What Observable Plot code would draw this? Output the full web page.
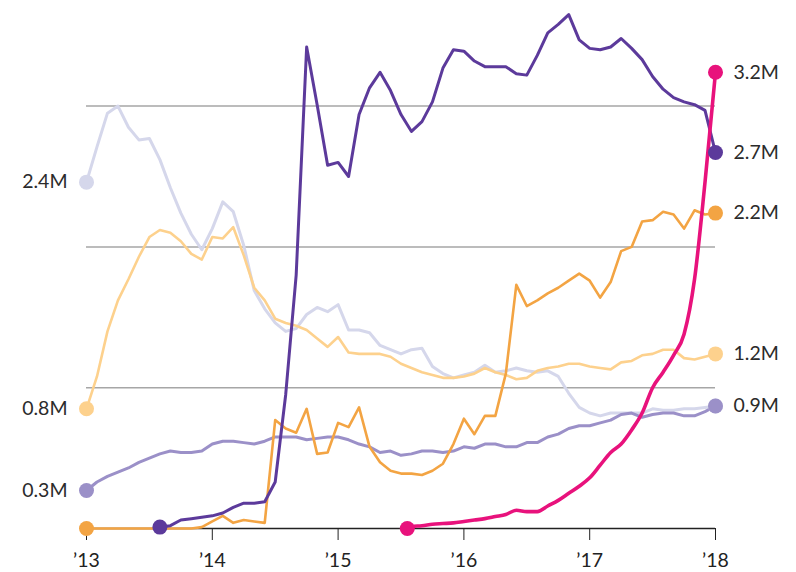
<!DOCTYPE html>
<html>
<head>
<meta charset="utf-8">
<script src="https://cdn.jsdelivr.net/npm/d3@7"></script>
<script src="https://cdn.jsdelivr.net/npm/@observablehq/plot@0.6"></script>
<style>
  html, body { margin: 0; padding: 0; background: #fff; }
  #chart { width: 796px; height: 572px; }
</style>
</head>
<body>
<div id="chart"></div>
<script>
// Year ticks
const years = [2013, 2014, 2015, 2016, 2017, 2018];
const gridValues = [1e6, 2e6, 3e6];

// Monthly values (millions), first month = start
const lavenderStart = 2013;
const lavenderValues = [2.46,2.71,2.95,3.00,2.85,2.76,2.77,2.62,2.42,2.24,2.09,1.98,2.13,2.32,2.25,2.01,1.69,1.56,1.46,1.40,1.42,1.52,1.57,1.54,1.59,1.41,1.41,1.39,1.30,1.27,1.24,1.27,1.28,1.15,1.10,1.07,1.09,1.11,1.16,1.11,1.12,1.14,1.12,1.11,1.12,1.08,0.96,0.86,0.82,0.80,0.82,0.82,0.82,0.82,0.85,0.84,0.84,0.85,0.85,0.86,0.87];

const lightOrangeStart = 2013;
const lightOrangeValues = [0.85,1.08,1.40,1.62,1.77,1.93,2.07,2.12,2.10,2.04,1.95,1.91,2.07,2.06,2.14,1.94,1.71,1.62,1.49,1.46,1.44,1.41,1.35,1.29,1.36,1.25,1.24,1.24,1.24,1.22,1.17,1.14,1.11,1.09,1.07,1.07,1.08,1.10,1.14,1.11,1.09,1.06,1.07,1.12,1.14,1.15,1.17,1.17,1.15,1.14,1.13,1.18,1.19,1.23,1.24,1.27,1.27,1.21,1.20,1.22,1.24];

const mediumPurpleStart = 2013;
const mediumPurpleValues = [0.27,0.33,0.37,0.40,0.43,0.47,0.50,0.53,0.55,0.54,0.54,0.55,0.60,0.62,0.62,0.61,0.60,0.62,0.65,0.65,0.65,0.63,0.64,0.65,0.65,0.63,0.60,0.58,0.54,0.55,0.52,0.53,0.55,0.55,0.54,0.55,0.58,0.57,0.60,0.60,0.58,0.58,0.61,0.61,0.65,0.67,0.71,0.73,0.73,0.75,0.77,0.81,0.82,0.79,0.81,0.82,0.82,0.80,0.80,0.83,0.87];

const orangeStart = 2013;
const orangeValues = [0,0,0,0,0,0,0,0,0,0,0,0.01,0.05,0.09,0.04,0.06,0.05,0.04,0.77,0.71,0.68,0.85,0.53,0.54,0.75,0.72,0.86,0.58,0.47,0.41,0.39,0.39,0.38,0.41,0.46,0.60,0.78,0.67,0.80,0.80,1.10,1.73,1.58,1.62,1.67,1.71,1.76,1.81,1.76,1.64,1.75,1.97,2.00,2.18,2.19,2.25,2.23,2.13,2.26,2.23,2.24];

const darkPurpleStart = 2013 + 7 / 12;
const darkPurpleValues = [0.01,0.02,0.06,0.07,0.08,0.09,0.11,0.15,0.18,0.18,0.19,0.33,0.95,1.80,3.42,3.01,2.58,2.60,2.50,2.94,3.13,3.24,3.11,2.94,2.82,2.89,3.03,3.27,3.40,3.39,3.32,3.28,3.28,3.28,3.23,3.22,3.36,3.52,3.58,3.65,3.47,3.41,3.40,3.42,3.48,3.41,3.33,3.21,3.12,3.06,3.03,3.01,2.97,2.67];

// Magenta: first reading mid-July 2015, then monthly from Aug 2015
const magentaFirstDate = 2015.55;
const magentaStart = 2013 + 31 / 12;
const magentaValues = [0,0.015,0.02,0.03,0.035,0.04,0.05,0.06,0.07,0.085,0.10,0.13,0.12,0.12,0.16,0.20,0.25,0.30,0.36,0.45,0.54,0.60,0.70,0.82,1.00,1.11,1.23,1.38,1.77,2.46,3.24];

const seriesNames  = ["lavender","lightOrange","mediumPurple","orange","darkPurple","magenta"];
const seriesColors = ["#d5d7eb","#fdd18d","#9b90c8","#f3a443","#5c3a9b","#e8127c"];
const seriesWidths = [3, 2.6, 3, 2.6, 3, 3.6];
const startLabels  = ["2.4M","0.8M","0.3M",null,null,null];
const endLabels    = [null,"1.2M","0.9M","2.2M","2.7M","3.2M"];

function monthly(start, values) {
  return values.map((v, i) => ({x: start + i / 12, y: v * 1e6}));
}
const seriesData = [
  monthly(lavenderStart, lavenderValues),
  monthly(lightOrangeStart, lightOrangeValues),
  monthly(mediumPurpleStart, mediumPurpleValues),
  monthly(orangeStart, orangeValues),
  monthly(darkPurpleStart, darkPurpleValues),
  [{x: magentaFirstDate, y: magentaValues[0] * 1e6}, ...monthly(magentaStart, magentaValues.slice(1))]
];

const marks = [
  Plot.ruleY(gridValues, {stroke: "#a6a6a6", strokeWidth: 1.5}),
  Plot.ruleY([0], {stroke: "#222", strokeWidth: 1.6})
];
seriesData.forEach((d, i) => {
  marks.push(Plot.line(d, {
    x: "x", y: "y", stroke: seriesColors[i], strokeWidth: seriesWidths[i],
    strokeLinejoin: "round", strokeLinecap: "round",
    curve: seriesNames[i] === "magenta" ? "monotone-x" : "linear"
  }));
});
seriesData.forEach((d, i) => {
  const first = d[0], last = d[d.length - 1];
  marks.push(Plot.dot([first, last], {x: "x", y: "y", fill: seriesColors[i], r: 7.5}));
  if (startLabels[i]) marks.push(Plot.text([first], {x: "x", y: "y", text: () => startLabels[i], textAnchor: "end", dx: -19, fontSize: 19.5, fill: "#2b2b2b"}));
  if (endLabels[i]) marks.push(Plot.text([last], {x: "x", y: "y", text: () => endLabels[i], textAnchor: "start", dx: 18, fontSize: 19.5, fill: "#2b2b2b"}));
});

const chart = Plot.plot({
  width: 796,
  height: 572,
  marginLeft: 86,
  marginRight: 81,
  marginTop: 0,
  marginBottom: 44,
  style: {fontFamily: "Lato, 'Open Sans', sans-serif", fontSize: "19.5px", color: "#222", background: "#fff", overflow: "visible"},
  x: {domain: [2013, 2018], ticks: years, tickFormat: d => "\u2019" + String(d).slice(2), tickSize: 12, tickPadding: 13, label: null},
  y: {domain: [0, 3.75e6], axis: null},
  marks
});
document.getElementById("chart").appendChild(chart);
</script>
</body>
</html>
